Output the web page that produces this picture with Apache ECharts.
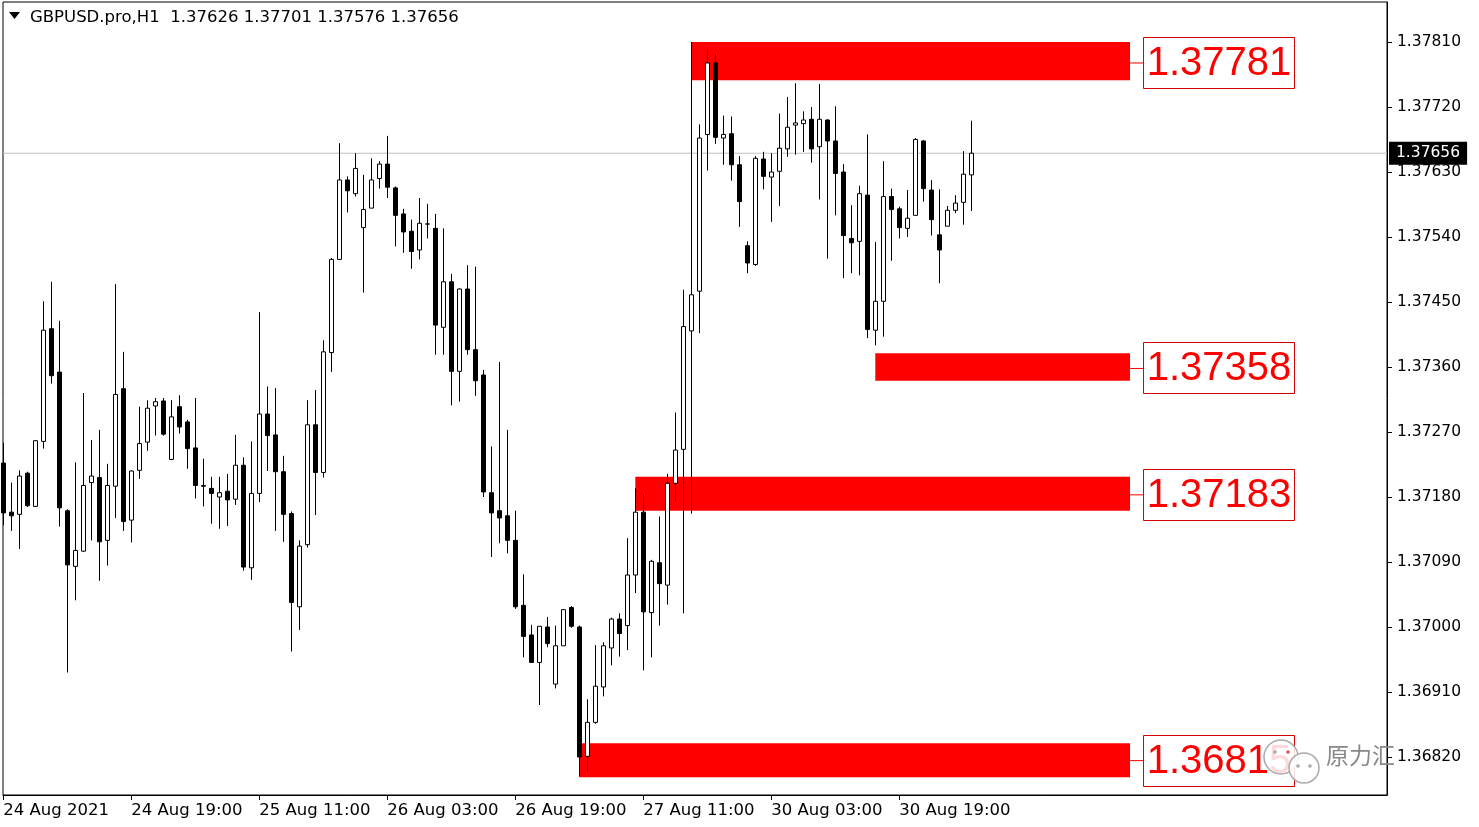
<!DOCTYPE html>
<html><head><meta charset="utf-8">
<script src="https://cdn.jsdelivr.net/npm/echarts@6/dist/echarts.min.js"></script>
<style>html,body{margin:0;padding:0;background:#fff}#c{width:1479px;height:827px}</style>
</head><body><div id="c"></div>
<script>
const symbolTitle = 'GBPUSD.pro,H1';
const quoteOHLC = [1.37626, 1.37701, 1.37576, 1.37656];
const currentPrice = 1.37656;

const opens = [1.37227,1.37159,1.37156,1.37213,1.37167,1.37257,1.37413,1.37353,1.37161,1.37084,
1.37105,1.37200,1.37207,1.37120,1.37195,1.37330,1.37148,1.37217,1.37256,1.37306,
1.37313,1.37232,1.37305,1.37284,1.37248,1.37196,1.37192,1.37180,1.37188,1.37177,
1.37224,1.37082,1.37185,1.37295,1.37266,1.37215,1.37157,1.37028,1.37114,1.37280,
1.37214,1.37380,1.37509,1.37619,1.37600,1.37553,1.37580,1.37621,1.37641,1.37608,
1.37572,1.37548,1.37522,1.37558,1.37552,1.37415,1.37478,1.37354,1.37468,1.37384,
1.37349,1.37186,1.37161,1.37154,1.37120,1.37030,1.36989,1.36951,1.37000,1.36921,
1.36974,1.37027,1.37000,1.36821,1.36868,1.36917,1.36971,1.37011,1.37002,1.37072,
1.37159,1.37020,1.37089,1.37058,1.37199,1.37246,1.37410,1.37465,1.37682,1.37781,
1.37677,1.37683,1.37640,1.37528,1.37502,1.37648,1.37623,1.37631,1.37662,1.37695,
1.37697,1.37703,1.37665,1.37702,1.37673,1.37630,1.37538,1.37534,1.37598,1.37411,
1.37451,1.37596,1.37579,1.37552,1.37570,1.37673,1.37605,1.37543,1.37555,1.37577,
1.37588,1.37626];
const closes = [1.37158,1.37154,1.37209,1.37168,1.37258,1.37411,1.37348,1.37165,1.37086,1.37106,
1.37196,1.37209,1.37118,1.37196,1.37322,1.37146,1.37216,1.37254,1.37303,1.37312,
1.37267,1.37291,1.37277,1.37247,1.37196,1.37195,1.37185,1.37186,1.37176,1.37224,
1.37083,1.37185,1.37295,1.37265,1.37215,1.37156,1.37034,1.37112,1.37280,1.37214,
1.37381,1.37509,1.37619,1.37604,1.37635,1.37578,1.37619,1.37641,1.37609,1.37570,
1.37547,1.37520,1.37559,1.37558,1.37418,1.37478,1.37354,1.37468,1.37384,1.37341,
1.37187,1.37158,1.37151,1.37120,1.37028,1.36987,1.36951,1.37001,1.36977,1.36974,
1.37024,1.37001,1.36820,1.36868,1.36918,1.36974,1.37011,1.36991,1.37072,1.37159,
1.37021,1.37091,1.37060,1.37199,1.37245,1.37416,1.37460,1.37677,1.37781,1.37678,
1.37682,1.37640,1.37589,1.37504,1.37649,1.37624,1.37630,1.37663,1.37692,1.37698,
1.37702,1.37662,1.37703,1.37673,1.37628,1.37542,1.37532,1.37600,1.37412,1.37451,
1.37596,1.37578,1.37553,1.37566,1.37675,1.37607,1.37564,1.37522,1.37577,1.37587,
1.37627,1.37656];
const lows = [1.37141,1.37133,1.37108,1.37166,1.37166,1.37247,1.37337,1.37139,1.36937,1.37037,
1.37104,1.37120,1.37064,1.37085,1.37151,1.37133,1.37117,1.37205,1.37244,1.37265,
1.37265,1.37231,1.37268,1.37219,1.37178,1.37167,1.37143,1.37136,1.37140,1.37169,
1.37078,1.37065,1.37173,1.37216,1.37133,1.37118,1.36966,1.36996,1.37110,1.37155,
1.37207,1.37353,1.37509,1.37574,1.37596,1.37463,1.37580,1.37607,1.37594,1.37527,
1.37518,1.37496,1.37509,1.37538,1.37377,1.37377,1.37307,1.37312,1.37377,1.37320,
1.37180,1.37097,1.37116,1.37102,1.37025,1.36958,1.36951,1.36892,1.36972,1.36915,
1.36974,1.36999,1.36793,1.36800,1.36866,1.36904,1.36947,1.36959,1.36968,1.37047,
1.36940,1.36958,1.37002,1.37031,1.37174,1.37019,1.37157,1.37407,1.37632,1.37669,
1.37640,1.37618,1.37554,1.37490,1.37500,1.37606,1.37561,1.37583,1.37651,1.37654,
1.37658,1.37643,1.37592,1.37510,1.37570,1.37483,1.37490,1.37487,1.37400,1.37390,
1.37402,1.37507,1.37538,1.37540,1.37570,1.37589,1.37542,1.37476,1.37555,1.37573,
1.37557,1.37576];
const highs = [1.37255,1.37200,1.37217,1.37215,1.37259,1.37451,1.37478,1.37424,1.37163,1.37228,
1.37324,1.37259,1.37273,1.37226,1.37475,1.37381,1.37217,1.37305,1.37314,1.37317,
1.37317,1.37314,1.37321,1.37287,1.37317,1.37233,1.37208,1.37208,1.37212,1.37266,
1.37235,1.37257,1.37436,1.37333,1.37331,1.37237,1.37160,1.37120,1.37314,1.37328,
1.37397,1.37511,1.37670,1.37624,1.37656,1.37626,1.37649,1.37645,1.37680,1.37610,
1.37579,1.37564,1.37594,1.37586,1.37572,1.37552,1.37489,1.37469,1.37501,1.37499,
1.37356,1.37250,1.37367,1.37273,1.37161,1.37073,1.37003,1.37001,1.37014,1.37002,
1.37025,1.37029,1.37002,1.36900,1.36975,1.36979,1.37013,1.37019,1.37123,1.37192,
1.37184,1.37093,1.37153,1.37212,1.37297,1.37467,1.37810,1.37696,1.37801,1.37793,
1.37708,1.37707,1.37652,1.37534,1.37652,1.37658,1.37656,1.37711,1.37734,1.37753,
1.37714,1.37720,1.37752,1.37703,1.37721,1.37641,1.37584,1.37611,1.37682,1.37533,
1.37645,1.37607,1.37582,1.37605,1.37677,1.37674,1.37619,1.37606,1.37583,1.37598,
1.37659,1.37701];

const tickIndices = [0, 16, 32, 48, 64, 80, 96, 112];
const tickLabels = ['24 Aug 2021', '24 Aug 19:00', '25 Aug 11:00', '26 Aug 03:00',
  '26 Aug 19:00', '27 Aug 11:00', '30 Aug 03:00', '30 Aug 19:00'];
const priceTicks = [1.36820, 1.36910, 1.37000, 1.37090, 1.37180, 1.37270, 1.37360,
  1.37450, 1.37540, 1.37630, 1.37720, 1.37810];

const zoneStart = [86, 109, 79, 72];
const zoneTop = [1.37810, 1.37379, 1.37208, 1.36839];
const zoneBottom = [1.37757, 1.37341, 1.37161, 1.36792];
const zoneLabel = [1.37781, 1.37358, 1.37183, 1.36815];

// layout config
const FONT = '"DejaVu Sans", Verdana, sans-serif';
const PX_PER_BAR = 8;
const xMin = -0.0375;
const xMax = xMin + 1384 / PX_PER_BAR;
const yMin = 1.367674, yMax = 1.378654;
const zoneEnd = 140.84;

const candleData = opens.map((o, i) => [i, o, closes[i], lows[i], highs[i]]);
const zoneData = zoneStart.map((s, i) => [s, zoneTop[i], zoneBottom[i], zoneLabel[i]]);

const chart = echarts.init(document.getElementById('c'));
chart.setOption({
  animation: false,
  backgroundColor: '#ffffff',
  grid: { left: 3, top: 2, right: 92, bottom: 32, show: true, borderColor: '#000', borderWidth: 1, backgroundColor: 'transparent' },
  xAxis: {
    type: 'value', min: xMin, max: xMax,
    splitLine: { show: false },
    axisLine: { show: true, onZero: false, lineStyle: { color: '#000', width: 1 } },
    axisTick: { show: true, customValues: tickIndices, length: 5, lineStyle: { color: '#000' } },
    axisLabel: {
      customValues: tickIndices,
      formatter: v => { const k = tickIndices.indexOf(Math.round(v)); return k >= 0 ? tickLabels[k] : ''; },
      align: 'left', margin: 7, color: '#000', fontFamily: FONT, fontSize: 16.5
    }
  },
  yAxis: {
    type: 'value', position: 'right', min: yMin, max: yMax,
    splitLine: { show: false },
    axisLine: { show: true, onZero: false, lineStyle: { color: '#000', width: 1 } },
    axisTick: { show: true, customValues: priceTicks, length: 5, lineStyle: { color: '#000' } },
    axisLabel: {
      customValues: priceTicks, formatter: v => v.toFixed(5),
      margin: 10, color: '#000', fontFamily: FONT, fontSize: 15.5
    }
  },
  series: [
    {
      type: 'custom', z: 1, clip: false,
      data: zoneData,
      encode: { x: 0, y: [1, 2] },
      renderItem: (params, api) => {
        const p0 = api.coord([api.value(0), api.value(1)]);
        const p1 = api.coord([zoneEnd, api.value(2)]);
        const pl = api.coord([zoneEnd, api.value(3)]);
        const txt = api.value(3).toFixed(5);
        const bx = p1[0] + 13;
        return {
          type: 'group', children: [
            { type: 'rect', shape: { x: p0[0], y: p0[1], width: p1[0] - p0[0], height: p1[1] - p0[1] }, style: { fill: '#ff0000' } },
            { type: 'line', shape: { x1: p1[0], y1: pl[1], x2: bx, y2: pl[1] }, style: { stroke: '#ff0000', lineWidth: 1 } },
            { type: 'rect', shape: { x: bx + 0.5, y: Math.round(pl[1]) - 25.5, width: 151, height: 51 }, style: { fill: '#ffffff', stroke: '#d40000', lineWidth: 1 } },
            { type: 'text', x: bx + 76, y: pl[1] + 1, style: { text: txt, fill: '#ff0000', font: '40px "Liberation Sans", Arial, sans-serif', align: 'center', verticalAlign: 'middle' } }
          ]
        };
      }
    },
    {
      type: 'line', z: 2, silent: true,
      data: [[xMin, currentPrice], [xMax, currentPrice]],
      symbol: 'none', clip: false,
      lineStyle: { color: '#c0c0c0', width: 1, type: 'solid' },
      endLabel: {
        show: true, distance: 2, formatter: () => currentPrice.toFixed(5),
        backgroundColor: '#000', color: '#fff', padding: [4, 7, 3, 7],
        fontFamily: FONT, fontSize: 15.5
      }
    },
    {
      type: 'candlestick', z: 3,
      data: candleData,
      encode: { x: 0, y: [1, 2, 3, 4] },
      barWidth: 5,
      clip: true,
      itemStyle: { color: '#ffffff', color0: '#000000', borderColor: '#000000', borderColor0: '#000000', borderWidth: 1 }
    }
  ],
  graphic: [
    { type: 'polygon', shape: { points: [[9, 12], [20, 12], [14.5, 19]] }, style: { fill: '#000' } },
    { type: 'text', left: 30, top: 9, style: { text: symbolTitle + '  ' + quoteOHLC.map(v => v.toFixed(5)).join(' '), font: '16.5px "DejaVu Sans", Verdana, sans-serif', fill: '#000' } },
    { type: 'circle', shape: { cx: 1281, cy: 757, r: 17 }, style: { fill: 'rgba(255,255,255,0.85)', stroke: '#aaaaaa', lineWidth: 1.5 }, z: 100 },
    { type: 'circle', shape: { cx: 1275, cy: 752, r: 1.8 }, style: { fill: '#aaaaaa' }, z: 101 },
    { type: 'circle', shape: { cx: 1288, cy: 752, r: 1.8 }, style: { fill: '#e05050' }, z: 101 },
    { type: 'circle', shape: { cx: 1304, cy: 768, r: 15 }, style: { fill: 'rgba(255,255,255,0.85)', stroke: '#aaaaaa', lineWidth: 1.5 }, z: 102 },
    { type: 'circle', shape: { cx: 1298, cy: 766, r: 1.8 }, style: { fill: '#aaaaaa' }, z: 103 },
    { type: 'circle', shape: { cx: 1310, cy: 766, r: 1.8 }, style: { fill: '#aaaaaa' }, z: 103 },
    { type: 'text', left: 1326, top: 744, style: { text: '原力汇', font: '23px "Noto Sans CJK SC", sans-serif', fill: '#888888' }, z: 104 }
  ]
});
</script>
</body></html>
